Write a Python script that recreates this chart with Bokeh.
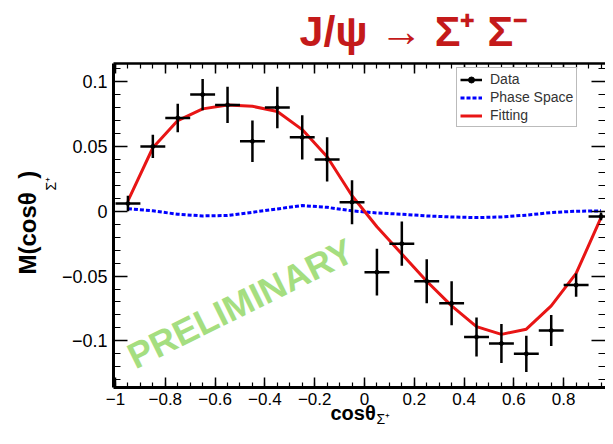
import numpy as np
from bokeh.plotting import figure
from bokeh.models import (Range1d, LinearAxis, FixedTicker, Label, Legend, LegendItem,
                          Title, CustomJSTickFormatter)
from bokeh.embed import file_html
from bokeh.resources import INLINE

# ---- data ----
bin_x = [-0.95, -0.85, -0.75, -0.65, -0.55, -0.45, -0.35, -0.25, -0.15, -0.05,
         0.05, 0.15, 0.25, 0.35, 0.45, 0.55, 0.65, 0.75, 0.85, 0.95]
bin_half = 0.05
data_y = [0.006, 0.050, 0.072, 0.090, 0.082, 0.054, 0.080, 0.057, 0.040, 0.007,
          -0.047, -0.025, -0.054, -0.071, -0.097, -0.102, -0.110, -0.092, -0.057, -0.004]
data_err = [0.006, 0.009, 0.011, 0.012, 0.014, 0.016, 0.016, 0.017, 0.017, 0.017,
            0.018, 0.017, 0.017, 0.017, 0.015, 0.015, 0.014, 0.012, 0.009, 0.003]
phase_y = [0.0020, 0.0003, -0.0023, -0.0036, -0.0033, -0.0008, 0.0018, 0.0044, 0.0030, 0.0003,
           -0.0013, -0.0023, -0.0036, -0.0044, -0.0049, -0.0044, -0.0030, -0.0010, 0.0000, 0.0003]
fit_y = [0.008, 0.049, 0.070, 0.079, 0.082, 0.081, 0.077, 0.063, 0.042, 0.012,
         -0.012, -0.033, -0.054, -0.073, -0.089, -0.095, -0.091, -0.073, -0.048, -0.005]

x_tick_vals = [-1, -0.8, -0.6, -0.4, -0.2, 0, 0.2, 0.4, 0.6, 0.8, 1]
x_tick_labels = ["\u22121", "\u22120.8", "\u22120.6", "\u22120.4", "\u22120.2", "0",
                 "0.2", "0.4", "0.6", "0.8", "1"]
y_tick_vals = [-0.1, -0.05, 0, 0.05, 0.1]
y_tick_labels = ["\u22120.1", "\u22120.05", "0", "0.05", "0.1"]

title_text = "J/\u03c8 \u2192 \u03a3\u207a \u03a3\u207b"
x_label_main = "cos\u03b8"
y_label_main = "M(cos\u03b8\u00a0\u00a0)"
label_sub = "\u03a3\u207a"

FONT = "Liberation Sans"

p = figure(width=605, height=436,
           x_range=Range1d(-1.008, 0.968), y_range=Range1d(-0.136, 0.114),
           output_backend="svg", toolbar_location=None,
           x_axis_type=None, y_axis_type=None,
           min_border_left=113, min_border_right=0,
           min_border_top=62, min_border_bottom=49)
p.outline_line_color = None
p.background_fill_color = "white"

# chart title
p.title.text = title_text
p.title.text_font = FONT
p.title.text_font_size = "43px"
p.title.text_font_style = "bold"
p.title.text_color = "#c41a1a"
p.title.align = "left"
p.title.offset = 186
p.title.vertical_align = "top"
p.title.standoff = 13

x_minor = list(np.round(np.arange(-1.0, 1.0001, 0.05), 3))
y_minor = list(np.round(np.arange(-0.13, 0.1101, 0.01), 3))


def make_axis(ticks, labels, minor, major_in, minor_in, show, lw):
    ax = LinearAxis(ticker=FixedTicker(ticks=ticks, minor_ticks=minor))
    ax.major_tick_out = 0
    ax.minor_tick_out = 0
    ax.major_tick_in = major_in
    ax.minor_tick_in = minor_in
    ax.major_tick_line_width = 1.5
    ax.minor_tick_line_width = 1.2
    ax.axis_line_width = lw
    ax.axis_line_color = "black"
    if show:
        ax.major_label_overrides = dict(zip(ticks, labels))
        ax.major_label_text_font = FONT
        ax.major_label_text_font_size = "18px"
        ax.major_label_text_color = "black"
    else:
        ax.formatter = CustomJSTickFormatter(code="return ''")
        ax.major_label_standoff = 0
    return ax


bottom = make_axis(x_tick_vals, x_tick_labels, x_minor, 10, 5, True, 3)
bottom.major_label_standoff = 5
bottom.major_label_text_font_size = "17px"
left = make_axis(y_tick_vals, y_tick_labels, y_minor, 14, 7, True, 3)
left.major_label_standoff = 6
top = make_axis(x_tick_vals, x_tick_labels, x_minor, 10, 5, False, 2.5)
right = make_axis(y_tick_vals, y_tick_labels, y_minor, 14, 7, False, 2)
right.axis_line_color = None
p.add_layout(bottom, "below")
p.add_layout(left, "left")
p.add_layout(top, "above")
p.add_layout(right, "right")

# axis titles (main text + subscript)
p.add_layout(Title(text=x_label_main, align="left", offset=217, standoff=-16,
                   text_font=FONT, text_font_size="20px", text_font_style="bold",
                   text_color="black"), "below")
p.add_layout(Title(text=label_sub, align="left", offset=263, standoff=-14,
                   text_font=FONT, text_font_size="14px", text_font_style="normal",
                   text_color="black"), "below")
p.add_layout(Title(text=label_sub, align="left", offset=197, standoff=0,
                   text_font=FONT, text_font_size="14px", text_font_style="normal",
                   text_color="black"), "left")
p.add_layout(Title(text=y_label_main, align="left", offset=113, standoff=0,
                   text_font=FONT, text_font_size="24px", text_font_style="bold",
                   text_color="black"), "left")

x = np.array(bin_x)
y = np.array(data_y)
e = np.array(data_err)

ps = p.line(bin_x, phase_y, line_color="#0000ff", line_width=3, line_dash="4 2")
fit = p.line(bin_x, fit_y, line_color="#e81515", line_width=3)
vseg = p.segment(x0=x, y0=y - e, x1=x, y1=y + e, line_color="black", line_width=2.5)
hseg = p.segment(x0=x - bin_half, y0=y, x1=x + bin_half, y1=y, line_color="black", line_width=2.5)
dots = p.scatter(x, y, size=4, color="black")

legend = Legend(items=[LegendItem(label="Data", renderers=[hseg, dots]),
                       LegendItem(label="Phase Space", renderers=[ps]),
                       LegendItem(label="Fitting", renderers=[fit])],
                location=(343, 260))
legend.label_text_font = FONT
legend.label_text_font_size = "14px"
legend.label_text_color = "#333333"
legend.border_line_color = "#777777"
legend.border_line_width = 1
legend.background_fill_color = "white"
legend.background_fill_alpha = 1
legend.padding = 3
legend.spacing = 2
legend.margin = 0
legend.glyph_width = 22
legend.glyph_height = 15
legend.label_height = 15
legend.label_standoff = 8
p.add_layout(legend)

# watermark
p.add_layout(Label(x=127, y=84, x_units="screen", y_units="screen", text="PRELIMINARY",
                   text_font=FONT, text_font_style="bold", text_font_size="36px",
                   text_color="#a5de80", text_align="center", text_baseline="middle",
                   angle=0.46))

open("out.html", "w").write(file_html(p, INLINE))
